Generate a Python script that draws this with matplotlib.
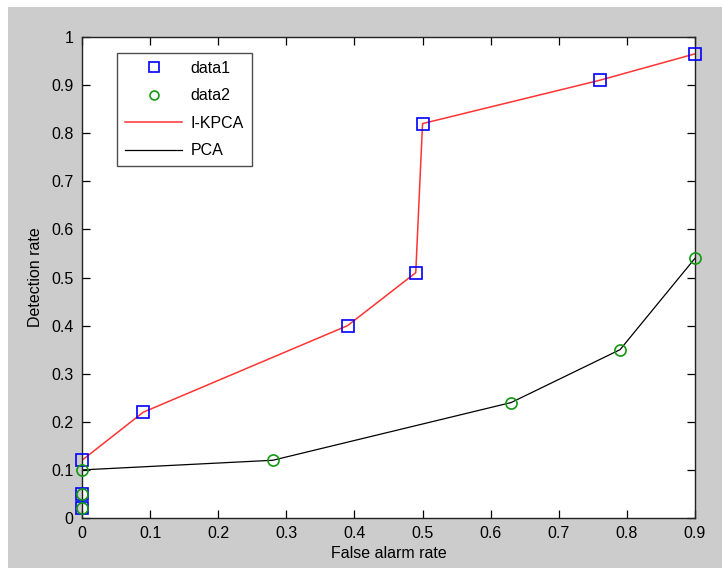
import matplotlib
matplotlib.use("Agg")
import matplotlib.pyplot as plt
from matplotlib.patches import Rectangle

plt.rcParams['font.family'] = ['Liberation Sans', 'DejaVu Sans']

# I-KPCA points (data1)
kpca_x = [0, 0, 0, 0.09, 0.39, 0.49, 0.50, 0.76, 0.90]
kpca_y = [0.02, 0.05, 0.12, 0.22, 0.40, 0.51, 0.82, 0.91, 0.965]
# PCA points (data2)
pca_x = [0, 0, 0, 0.28, 0.63, 0.79, 0.90]
pca_y = [0.02, 0.05, 0.10, 0.12, 0.24, 0.35, 0.54]

xticks = [0, 0.1, 0.2, 0.3, 0.4, 0.5, 0.6, 0.7, 0.8, 0.9]
yticks = [0, 0.1, 0.2, 0.3, 0.4, 0.5, 0.6, 0.7, 0.8, 0.9, 1]

fig = plt.figure(figsize=(7.22, 5.68), dpi=100, facecolor='white')
# gray matlab figure area, thin white strip on left/top
fig.patches.append(Rectangle((8 / 722, 0), 1, 1 - 7 / 568, transform=fig.transFigure,
                             facecolor='#cccccc', edgecolor='none', zorder=-10))
ax = fig.add_axes([82 / 722, 50 / 568, 613 / 722, 481 / 568])

ax.plot(kpca_x, kpca_y, 's', color='blue', mfc='none', ms=8.5, mew=1.2, label='data1', clip_on=False, zorder=3)
ax.plot(pca_x, pca_y, 'o', color='#119911', mfc='none', ms=8, mew=1.2, label='data2', clip_on=False, zorder=3)
ax.plot(kpca_x[2:], kpca_y[2:], '-', color='#ff3333', lw=1.1, label='I-KPCA', zorder=2)
ax.plot(pca_x[2:], pca_y[2:], '-', color='black', lw=0.9, label='PCA', zorder=2)

ax.set_xlim(0, 0.9)
ax.set_ylim(0, 1)
ax.set_xticks(xticks)
ax.set_yticks(yticks)
ax.set_xticklabels([f'{t:g}' for t in xticks])
ax.set_yticklabels([f'{t:g}' for t in yticks])
ax.tick_params(direction='in', top=True, right=True, length=6, width=0.9, labelsize=11.5, pad=6)
for s in ax.spines.values():
    s.set_linewidth(1.0)
    s.set_color('#222222')
ax.set_xlabel('False alarm rate', fontsize=11.5, labelpad=3)
ax.set_ylabel('Detection rate', fontsize=11.5, labelpad=6)

leg = ax.legend(loc='upper left', bbox_to_anchor=(0.057, 0.967), fontsize=11.5, frameon=True,
                fancybox=False, edgecolor='#222222', handlelength=3.6, borderpad=0.5,
                labelspacing=0.78, handletextpad=0.5, borderaxespad=0, markerscale=0.8)
leg.get_frame().set_linewidth(1.0)

fig.savefig('out.png', dpi=100, facecolor=fig.get_facecolor())
